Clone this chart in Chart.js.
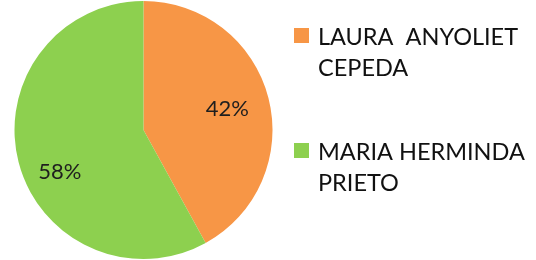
<!DOCTYPE html>
<html>
<head>
<meta charset="utf-8">
<script src="https://cdn.jsdelivr.net/npm/chart.js@4"></script>
<style>
  html, body { margin: 0; padding: 0; background: #fff; }
  #wrap { width: 536px; height: 260px; position: relative; }
</style>
</head>
<body>
<div id="wrap"><canvas id="pieChart"></canvas></div>
<script>
const names = [["LAURA  ANYOLIET", "CEPEDA"], ["MARIA HERMINDA", "PRIETO"]];
const shares = [42, 58];
const sliceColors = ["#F79646", "#8DD04F"];

// where the % text sits (fraction of radius) and a small nudge, like excel's best fit
const labelFrac = [0.67, 0.67];
const labelNudgeY = [0, 20];

const pctLabels = {
  id: "pctLabels",
  afterDatasetsDraw(chart) {
    const ctx = chart.ctx;
    const arcs = chart.getDatasetMeta(0).data;
    ctx.save();
    ctx.font = "22px Lato";
    ctx.fillStyle = "#1e1e1e";
    ctx.textAlign = "center";
    ctx.textBaseline = "middle";
    arcs.forEach((arc, i) => {
      const p = arc.getProps(["x", "y", "startAngle", "endAngle", "outerRadius"], true);
      const mid = (p.startAngle + p.endAngle) / 2;
      const r = p.outerRadius * labelFrac[i];
      ctx.fillText(shares[i] + "%", p.x + Math.cos(mid) * r, p.y + Math.sin(mid) * r + labelNudgeY[i]);
    });
    ctx.restore();
  },
};

// legend drawn by hand because the labels wrap on two lines
const sideLegend = {
  id: "sideLegend",
  afterDraw(chart) {
    const ctx = chart.ctx;
    const x0 = 294;
    const tops = [28, 143];
    ctx.save();
    ctx.font = "23.5px Lato";
    ctx.textBaseline = "alphabetic";
    names.forEach((lines, i) => {
      ctx.fillStyle = sliceColors[i];
      ctx.fillRect(x0, tops[i], 15, 15);
      ctx.fillStyle = "#111";
      lines.forEach((t, j) => {
        ctx.fillText(t, x0 + 24, tops[i] + 17 + j * 31);
      });
    });
    ctx.restore();
  },
};

new Chart(document.getElementById("pieChart"), {
  type: "pie",
  data: {
    labels: names.map((n) => n.join(" ")),
    datasets: [
      {
        data: shares,
        backgroundColor: sliceColors,
        borderWidth: 0,
      },
    ],
  },
  options: {
    responsive: true,
    maintainAspectRatio: false,
    animation: false,
    layout: { padding: { left: 14, right: 263, top: 1, bottom: 1 } },
    plugins: {
      legend: { display: false },
      tooltip: { enabled: false },
    },
  },
  plugins: [pctLabels, sideLegend],
});
</script>
</body>
</html>
